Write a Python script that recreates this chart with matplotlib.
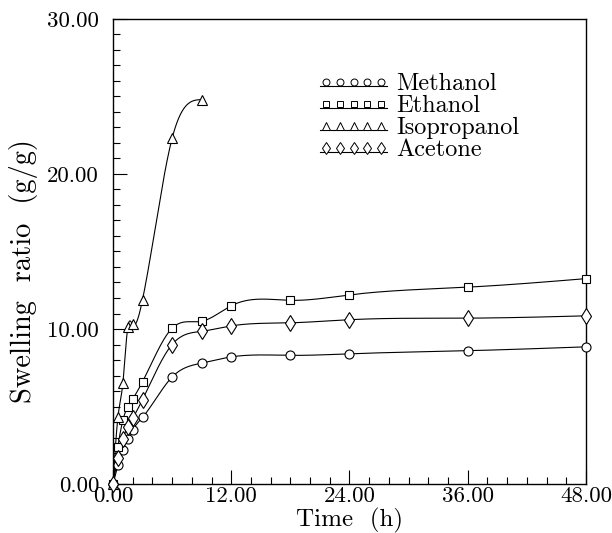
import numpy as np
import matplotlib.pyplot as plt
from matplotlib.lines import Line2D
from matplotlib.legend_handler import HandlerBase
from matplotlib.ticker import MultipleLocator, FormatStrFormatter

# data (time in h, swelling ratio in g/g)
t_main = [0, 0.5, 1, 1.5, 2, 3, 6, 9, 12, 18, 24, 36, 48]
methanol = [0, 1.2, 2.2, 2.9, 3.5, 4.3, 6.9, 7.8, 8.2, 8.3, 8.4, 8.6, 8.85]
ethanol = [0, 2.4, 4.1, 5.0, 5.5, 6.6, 10.05, 10.5, 11.5, 11.85, 12.2, 12.7, 13.25]
acetone = [0, 1.7, 2.9, 3.7, 4.25, 5.45, 9.0, 9.85, 10.2, 10.4, 10.6, 10.7, 10.85]
t_iso = [0, 0.5, 1, 1.5, 2, 3, 6, 9]
isopropanol = [0, 4.3, 6.5, 10.1, 10.3, 11.9, 22.3, 24.8]


def natural_spline(x, y, n=400):
    # smooth curve through the measured points, like the original plotting package
    x = np.asarray(x, float)
    y = np.asarray(y, float)
    k = len(x)
    h = np.diff(x)
    A = np.zeros((k, k))
    b = np.zeros(k)
    A[0, 0] = A[-1, -1] = 1
    for i in range(1, k - 1):
        A[i, i - 1] = h[i - 1]
        A[i, i] = 2 * (h[i - 1] + h[i])
        A[i, i + 1] = h[i]
        b[i] = 6 * ((y[i + 1] - y[i]) / h[i] - (y[i] - y[i - 1]) / h[i - 1])
    M = np.linalg.solve(A, b)
    xs = np.linspace(x[0], x[-1], n)
    idx = np.clip(np.searchsorted(x, xs) - 1, 0, k - 2)
    x0, x1 = x[idx], x[idx + 1]
    hh = x1 - x0
    ys = (M[idx] * (x1 - xs) ** 3 / (6 * hh) + M[idx + 1] * (xs - x0) ** 3 / (6 * hh)
          + (y[idx] / hh - M[idx] * hh / 6) * (x1 - xs)
          + (y[idx + 1] / hh - M[idx + 1] * hh / 6) * (xs - x0))
    return xs, ys


class LowLineHandler(HandlerBase):
    # five open markers with the line running along their lower edge
    def create_artists(self, legend, orig_handle, xdescent, ydescent,
                       width, height, fontsize, trans):
        ymid = (height - ydescent) / 2
        x0, x1 = -xdescent, width - xdescent
        line = Line2D([x0, x1], [ymid - 3.2, ymid - 3.2], color='black', lw=0.8)
        xm = np.linspace(x0 + 0.25 * fontsize, x1 - 0.25 * fontsize, 5)
        marks = Line2D(xm, [ymid] * 5, ls='none', marker=orig_handle.get_marker(),
                       ms=orig_handle.get_markersize(), mfc='white', mec='black', mew=0.7)
        line.set_transform(trans)
        marks.set_transform(trans)
        return [line, marks]


plt.rcParams['font.family'] = 'cmr10'
plt.rcParams['axes.formatter.use_mathtext'] = True

fig = plt.figure(figsize=(6.12, 5.33), dpi=100)
ax = fig.add_axes([0.1846, 0.0919, 0.7729, 0.8725])

series = [
    ('Methanol', t_main, methanol, 'o', 6.5, 5),
    ('Ethanol', t_main, ethanol, 's', 6, 4.6),
    ('Isopropanol', t_iso, isopropanol, '^', 7.5, 5.2),
    ('Acetone', t_main, acetone, 'd', 8.5, 6.5),
]

handles = []
for name, tt, yy, mk, ms, ms_leg in series:
    xs, ys = natural_spline(tt, yy)
    ax.plot(xs, ys, color='black', lw=0.8, zorder=2)
    ax.plot(tt, yy, linestyle='none', marker=mk, ms=ms, mfc='white',
            mec='black', mew=0.8, zorder=3, clip_on=False)
    handles.append(Line2D([], [], marker=mk, ms=ms_leg, label=name))

ax.set_xlim(0, 48)
ax.set_ylim(0, 30)
ax.xaxis.set_major_locator(MultipleLocator(12))
ax.xaxis.set_minor_locator(MultipleLocator(2))
ax.yaxis.set_major_locator(MultipleLocator(10))
ax.yaxis.set_minor_locator(MultipleLocator(1))
ax.xaxis.set_major_formatter(FormatStrFormatter('%.2f'))
ax.yaxis.set_major_formatter(FormatStrFormatter('%.2f'))
ax.tick_params(which='both', direction='in', top=False, right=False,
               labelsize=16.5, width=0.8)
ax.tick_params(which='major', length=10)
ax.tick_params(which='minor', length=5)
ax.tick_params(axis='x', which='major', pad=2)
ax.tick_params(axis='y', which='major', pad=10)
for sp in ax.spines.values():
    sp.set_linewidth(1.0)

ax.set_xlabel('Time  (h)', fontsize=18, labelpad=1)
ax.set_ylabel('Swelling  ratio  (g/g)', fontsize=20.5)
ax.yaxis.set_label_coords(-0.158, 0.458)

ax.legend(handles=handles, handler_map={Line2D: LowLineHandler()},
          loc='upper left', bbox_to_anchor=(0.4385, 0.884), frameon=False,
          handlelength=2.75, handletextpad=0.38, labelspacing=0.0,
          fontsize=17.5, borderpad=0, borderaxespad=0)

plt.savefig('out.png', dpi=100)
